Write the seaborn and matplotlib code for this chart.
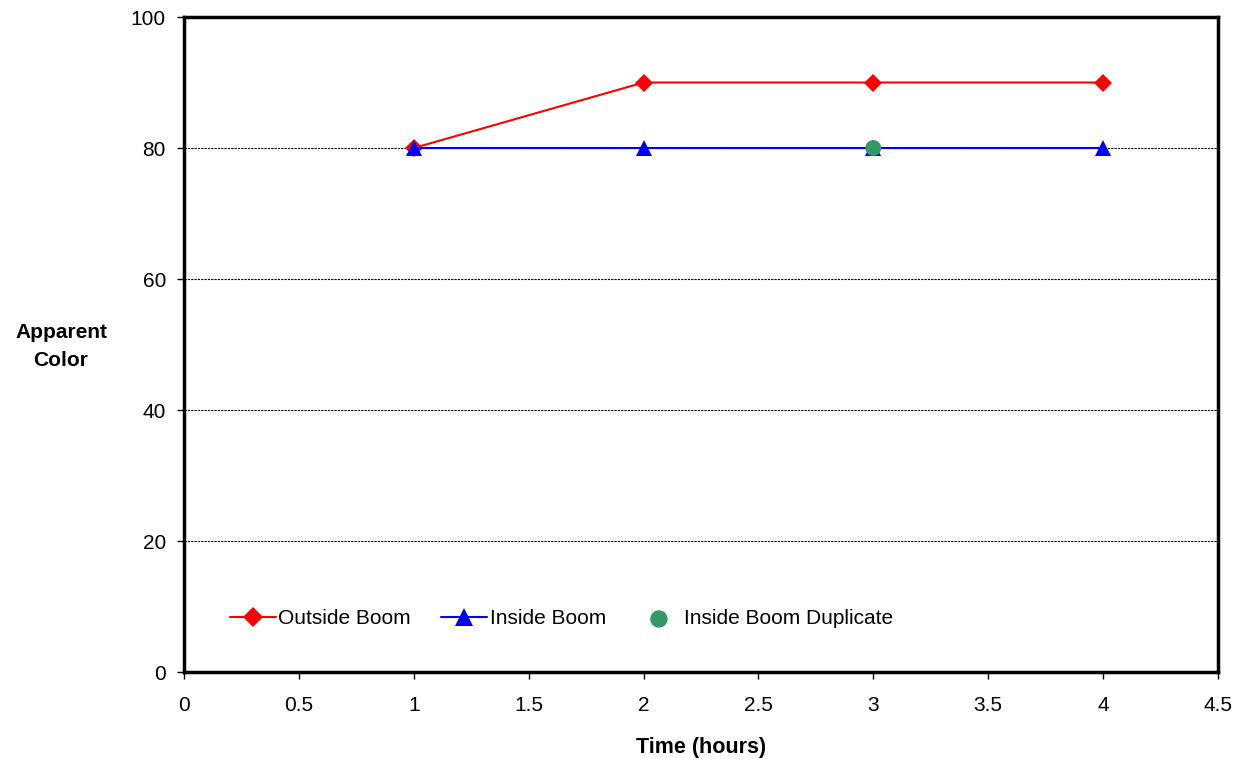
import matplotlib
matplotlib.use("Agg")
import matplotlib.pyplot as plt
import seaborn as sns
import pandas as pd

time_hours = [1, 2, 3, 4]
outside_boom = [80, 90, 90, 90]
inside_boom = [80, 80, 80, 80]
dup_time = [3]
inside_boom_dup = [80]

x_ticks = [0, 0.5, 1, 1.5, 2, 2.5, 3, 3.5, 4, 4.5]
y_ticks = [0, 20, 40, 60, 80, 100]

sns.set_theme(style="white")
plt.rcParams['font.family'] = ['Liberation Sans', 'DejaVu Sans']
plt.rcParams['text.color'] = 'black'
plt.rcParams['axes.labelcolor'] = 'black'
plt.rcParams['xtick.color'] = 'black'
plt.rcParams['ytick.color'] = 'black'

fig = plt.figure(figsize=(12.36, 7.59), dpi=100)
ax = fig.add_axes([0.1489, 0.1146, 0.8365, 0.863])

for y in [20, 40, 60, 80]:
    ax.axhline(y, color='black', lw=0.8, ls=(0, (2, 1)), zorder=0)

sns.lineplot(x=time_hours, y=outside_boom, ax=ax, color='#ff0000', lw=1.5,
             marker='D', markersize=9.5, markeredgewidth=0, label='Outside Boom')
sns.lineplot(x=time_hours, y=inside_boom, ax=ax, color='#0000ff', lw=1.5,
             marker='^', markersize=12, markeredgewidth=0, label='Inside Boom')
sns.scatterplot(x=dup_time, y=inside_boom_dup, ax=ax, color='#339966', s=130,
                edgecolor='none', label='Inside Boom Duplicate', zorder=5)

ax.set_xlim(0, 4.5)
ax.set_ylim(0, 100)
ax.set_xticks(x_ticks)
ax.set_xticklabels([f"{v:g}" for v in x_ticks])
ax.set_yticks(y_ticks)
ax.tick_params(axis='both', direction='out', length=5, width=1, labelsize=15,
               color='black', bottom=True, left=True)
ax.tick_params(axis='x', pad=12)
ax.tick_params(axis='y', pad=8)
for s in ax.spines.values():
    s.set_linewidth(2.5)
    s.set_color('black')

ax.set_xlabel('Time (hours)', fontsize=15.5, fontweight='bold', labelpad=16)
ax.set_ylabel('Apparent\nColor', fontsize=15, fontweight='bold', rotation=0,
              ha='center', va='center', linespacing=1.6)
ax.yaxis.set_label_coords(-0.119, 0.497)

leg = ax.legend(loc='center left', bbox_to_anchor=(0.0445, 0.081), ncol=3,
                frameon=False, fontsize=15, handlelength=2.2,
                handletextpad=0.12, columnspacing=1.45, markerscale=1.1,
                borderpad=0, borderaxespad=0)
fig.savefig('out.png', dpi=100)
